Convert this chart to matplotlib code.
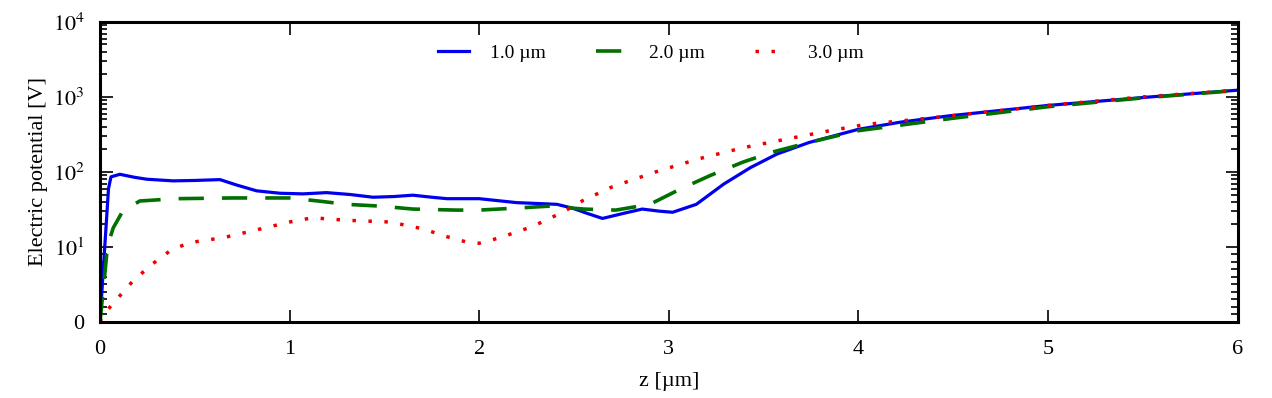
import numpy as np
import matplotlib.pyplot as plt
from matplotlib.ticker import FixedLocator

plt.rcParams['font.family'] = ['Liberation Serif', 'DejaVu Serif']
plt.rcParams['mathtext.fontset'] = 'stix'

# 1.0 um
z1 = [0.0, 0.02, 0.045, 0.058, 0.105, 0.18, 0.246, 0.386, 0.5, 0.633, 0.72, 0.826, 0.949,
      1.07, 1.195, 1.32, 1.44, 1.55, 1.65, 1.75, 1.83, 2.0, 2.197, 2.41, 2.49, 2.57, 2.65,
      2.76, 2.86, 2.95, 3.02, 3.145, 3.29, 3.43, 3.57, 3.74, 4.0, 4.22, 4.48, 5.0, 5.54, 6.0]
v1 = [0.0, 8.0, 60.0, 86.0, 93.0, 85.0, 80.0, 76.0, 77.0, 79.0, 67.0, 56.0, 52.0,
      51.0, 53.0, 50.0, 46.0, 47.0, 49.0, 46.0, 44.0, 44.0, 39.0, 37.0, 33.0, 28.0, 24.0,
      28.0, 32.0, 30.0, 29.0, 37.0, 69.0, 114.0, 173.0, 247.0, 370.0, 460.0, 560.0, 770.0, 1000.0, 1230.0]

# 2.0 um
z2 = [0.0, 0.02, 0.04, 0.07, 0.12, 0.21, 0.4, 0.7, 1.0, 1.15, 1.3, 1.48, 1.65, 1.88, 2.0,
      2.2, 2.37, 2.55, 2.72, 2.9, 3.06, 3.22, 3.39, 3.55, 3.74, 4.0, 4.5, 5.0, 5.5, 6.0]
v2 = [0.0, 5.0, 10.4, 18.0, 30.0, 41.0, 44.0, 45.0, 45.0, 41.0, 37.0, 35.0, 32.0, 31.0, 31.0,
      33.0, 35.0, 32.0, 31.0, 37.0, 59.0, 90.0, 135.0, 185.0, 247.0, 355.0, 520.0, 740.0, 970.0, 1220.0]

# 3.0 um
z3 = [0.0, 0.016, 0.07, 0.175, 0.28, 0.37, 0.47, 0.65, 0.826, 1.0, 1.12, 1.3, 1.53, 1.7,
      1.83, 1.93, 2.0, 2.11, 2.28, 2.44, 2.55, 2.7, 2.93, 3.16, 3.39, 3.62, 3.85, 4.04,
      4.3, 4.6, 5.0, 5.5, 6.0]
v3 = [0.0, 0.9, 2.5, 5.5, 7.8, 9.5, 11.4, 13.3, 16.9, 21.5, 24.5, 22.7, 21.5, 17.5,
      13.7, 11.7, 11.2, 13.3, 18.7, 29.0, 42.0, 63.0, 100.0, 150.0, 210.0, 274.0, 355.0, 430.0,
      500.0, 600.0, 770.0, 1000.0, 1230.0]

fig = plt.figure(figsize=(12.72, 3.98), dpi=100)
ax = fig.add_axes([0.0786, 0.191, 0.8944, 0.754])

ax.plot(z1, v1, color='#0000ee', lw=2.3, label='1.0 µm')
ax.plot(z2, v2, color='#007000', lw=2.6, ls=(0, (7, 5)), label='2.0 µm')
ax.plot(z3, v3, color='#ee0000', lw=2.5, ls=(0, (1.0, 3.6)), dash_capstyle='butt', label='3.0 µm')

ax.set_yscale('symlog', linthresh=10, linscale=0.9)
ax.set_xlim(0, 6)
ax.set_ylim(0, 1e4)

ax.yaxis.set_major_locator(FixedLocator([0, 10, 100, 1000, 10000]))
ax.set_yticklabels(['0', '$10^1$', '$10^2$', '$10^3$', '$10^4$'])
minors = list(range(1, 10)) + [m * d for d in (10, 100, 1000) for m in range(2, 10)]
ax.yaxis.set_minor_locator(FixedLocator(minors))
ax.set_xticks(range(7))

ax.tick_params(which='both', direction='in', top=True, right=True, labelsize=16, width=1.2)
ax.tick_params(which='major', length=9)
ax.tick_params(axis='x', which='major', pad=13)
ax.tick_params(axis='y', which='major', pad=11)
ax.tick_params(which='minor', length=5)
ax.tick_params(axis='x', which='minor', top=False, bottom=False)
for s in ax.spines.values():
    s.set_linewidth(2.2)

ax.set_xlabel('z [µm]', fontsize=16, labelpad=9)
ax.set_ylabel('Electric potential [V]', fontsize=16, labelpad=3)
ax.legend(loc='upper center', ncol=3, frameon=False, fontsize=14,
          handlelength=1.6, handletextpad=1.1, columnspacing=2.6,
          bbox_to_anchor=(0.484, 0.985))

plt.savefig('out.png', dpi=100)
